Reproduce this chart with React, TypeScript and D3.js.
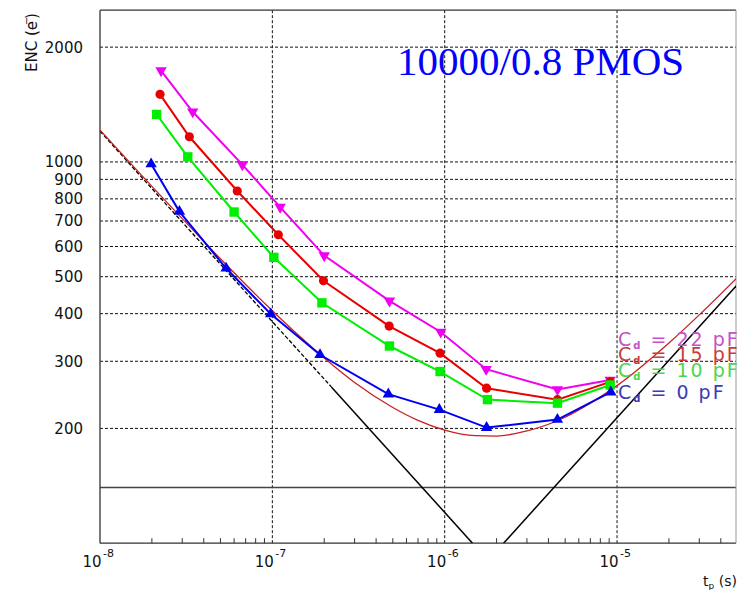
import React from 'react';
import * as d3 from 'd3';

// ---- data ----
const tpMagenta = [2.26e-8, 3.45e-8, 6.7e-8, 1.11e-7, 2.0e-7, 4.78e-7, 9.48e-7, 1.74e-6, 4.51e-6, 9.12e-6];
const encMagenta = [1736, 1354, 984, 761, 568, 432, 358, 286, 253, 268];

const tpRed = [2.23e-8, 3.3e-8, 6.26e-8, 1.083e-7, 1.98e-7, 4.76e-7, 9.4e-7, 1.75e-6, 4.51e-6, 9.12e-6];
const encRed = [1504, 1164, 839, 644, 488, 371, 315, 255, 238, 265];

const tpGreen = [2.13e-8, 3.23e-8, 6.0e-8, 1.02e-7, 1.94e-7, 4.78e-7, 9.4e-7, 1.77e-6, 4.51e-6, 9.12e-6];
const encGreen = [1332, 1031, 739, 562, 427, 329, 282, 238, 233, 260];

const tpBlue = [1.98e-8, 2.89e-8, 5.39e-8, 9.79e-8, 1.89e-7, 4.71e-7, 9.31e-7, 1.75e-6, 4.51e-6, 9.2e-6];
const encBlue = [987, 741, 526, 399, 312, 246, 224, 201, 211, 249];

// thin red total-noise curve
const tpTotal = [1e-8, 1.5e-8, 2e-8, 3e-8, 5e-8, 7e-8, 1e-7, 1.5e-7, 2e-7, 3e-7, 5e-7, 7e-7, 1e-6, 1.5e-6, 2e-6, 3e-6, 5e-6, 7e-6, 1e-5, 2e-5, 3e-5, 5e-5];
const encTotal = [1212, 993, 863, 710, 557, 477, 407, 343, 306, 264, 227, 210, 198, 191.5, 191, 197, 214, 233, 259, 335, 397, 498];

// black asymptotes
const tpSeriesDashed = [1e-8, 2.2e-7];
const encSeriesDashed = [1204, 257];
const tpSeriesSolid = [2.2e-7, 1.45e-6];
const encSeriesSolid = [257, 100];
const tpParallel = [2.195e-6, 5e-5];
const encParallel = [100, 477];

const hLineValue = 140;

const yTickValues = [200, 300, 400, 500, 600, 700, 800, 900, 1000, 2000];
const xDecades = [-8, -7, -6, -5];
const xGridValues = [1e-7, 1e-6, 1e-5];

const legendLabels = ['22', '15', '10', '0'];

const seriesList = [
  { tp: tpMagenta, enc: encMagenta, color: '#f000f0', shape: 'tdown', legendColor: '#c850c8' },
  { tp: tpRed, enc: encRed, color: '#e80000', shape: 'circle', legendColor: '#c83c3c' },
  { tp: tpGreen, enc: encGreen, color: '#00ee00', shape: 'square', legendColor: '#4cd64c' },
  { tp: tpBlue, enc: encBlue, color: '#0000f0', shape: 'tup', legendColor: '#3c3cb4' },
];

export default function App() {
  const x = d3.scaleLog().domain([1e-8, 4.9e-5]).range([100, 736]);
  const y = d3.scaleLog().domain([100, 2500]).range([543.2, 10.2]);
  const [x0, x1] = x.range();
  const [yb, yt] = y.range();

  const line = d3
    .line<[number, number]>()
    .x((d) => x(d[0]))
    .y((d) => y(d[1]));
  const smooth = d3
    .line<[number, number]>()
    .x((d) => x(d[0]))
    .y((d) => y(d[1]))
    .curve(d3.curveMonotoneX);

  const zip = (a: number[], b: number[]) => a.map((v, i) => [v, b[i]] as [number, number]);

  const minorTicks: number[] = [];
  xDecades.forEach((d) => {
    for (let k = 2; k <= 9; k++) {
      const v = k * Math.pow(10, d);
      if (v < x.domain()[1]) minorTicks.push(v);
    }
  });

  const sym = (shape: string) => {
    if (shape === 'circle') return d3.symbol(d3.symbolCircle, 66)();
    if (shape === 'square') return d3.symbol(d3.symbolSquare, 88)();
    return d3.symbol(d3.symbolTriangle, 56)();
  };

  const legendY = [346, 361, 377, 399];

  return (
    <svg
      width={738}
      height={590}
      style={{ position: 'absolute', left: 0, top: 0, background: '#fff' }}
      fontFamily="'DejaVu Sans', sans-serif"
    >
      <rect x={0} y={0} width={738} height={590} fill="#fff" />
      <defs>
        <clipPath id="plotclip">
          <rect x={x0} y={yt} width={x1 - x0} height={yb - yt} />
        </clipPath>
      </defs>

      {/* grid */}
      {yTickValues.map((v) => (
        <line key={'hg' + v} x1={x0} x2={x1} y1={y(v)} y2={y(v)} stroke="#111" strokeWidth={1} strokeDasharray="3,2" />
      ))}
      {xGridValues.map((v) => (
        <line key={'vg' + v} x1={x(v)} x2={x(v)} y1={yt} y2={yb} stroke="#111" strokeWidth={1} strokeDasharray="3,2" />
      ))}
      <line x1={x0} x2={x1} y1={y(hLineValue)} y2={y(hLineValue)} stroke="#444" strokeWidth={1.3} />

      {/* frame */}
      <line x1={x0} x2={x0} y1={yt} y2={yb} stroke="#333" strokeWidth={1.3} />
      <line x1={x0} x2={x1} y1={yb} y2={yb} stroke="#333" strokeWidth={1.3} />
      <line x1={x0} x2={x1} y1={yt} y2={yt} stroke="#333" strokeWidth={1.3} />
      <line x1={x1} x2={x1} y1={yt} y2={yb} stroke="#999" strokeWidth={1} />

      {/* x ticks */}
      {minorTicks.map((v) => (
        <line key={'mt' + v} x1={x(v)} x2={x(v)} y1={yb} y2={yb - 5} stroke="#333" strokeWidth={1} />
      ))}

      {/* model curves */}
      <g clipPath="url(#plotclip)" fill="none">
        <path d={line(zip(tpSeriesDashed, encSeriesDashed)) || ''} stroke="#000" strokeWidth={1.3} strokeDasharray="4,2" />
        <path d={line(zip(tpSeriesSolid, encSeriesSolid)) || ''} stroke="#000" strokeWidth={1.5} />
        <path d={line(zip(tpParallel, encParallel)) || ''} stroke="#000" strokeWidth={1.5} />
        <path d={smooth(zip(tpTotal, encTotal)) || ''} stroke="#c82020" strokeWidth={1.3} />
      </g>

      {/* series */}
      {seriesList.map((s, i) => (
        <g key={'s' + i}>
          <path d={line(zip(s.tp, s.enc)) || ''} fill="none" stroke={s.color} strokeWidth={2} />
          {s.tp.map((t, j) => (
            <path
              key={j}
              d={sym(s.shape) || ''}
              transform={`translate(${x(t)},${y(s.enc[j])})${s.shape === 'tdown' ? ' rotate(180)' : ''}`}
              fill={s.color}
            />
          ))}
        </g>
      ))}

      {/* y tick labels */}
      {yTickValues.map((v) => (
        <text key={'yl' + v} x={83} y={y(v)} dy="0.36em" textAnchor="end" fontSize={15} fill="#111">
          {v}
        </text>
      ))}

      {/* x tick labels */}
      {xDecades.map((d) => (
        <g key={'xl' + d}>
          <text x={x(Math.pow(10, d)) + 1.5} y={567} textAnchor="end" fontSize={15} fill="#111">
            10
          </text>
          <text x={x(Math.pow(10, d)) + 3} y={557} fontSize={11} fill="#111">
            {'-' + Math.abs(d)}
          </text>
        </g>
      ))}

      {/* axis titles */}
      <text x={737} y={586} textAnchor="end" fontSize={14} fill="#111">
        t<tspan fontSize={9} dy={3}>p</tspan>
        <tspan dy={-3}> (s)</tspan>
      </text>
      <g transform="translate(37,72) rotate(-90)" fill="#111">
        <text x={0} y={0} fontSize={15}>ENC (e</text>
        <text x={47} y={-7} fontSize={10}>−</text>
        <text x={53} y={0} fontSize={15}>)</text>
      </g>

      {/* title */}
      <text x={397} y={75} fontFamily="'Liberation Serif', serif" fontSize={41} fill="#0000ff">
        10000/0.8 PMOS
      </text>

      {/* legend */}
      {seriesList.map((s, i) => (
        <text key={'lg' + i} x={618} y={legendY[i]} fontSize={19} letterSpacing={2} fill={s.legendColor}>
          C<tspan fontSize={10} dy={3} fontWeight="bold">d</tspan>
          <tspan dy={-3}>{' = ' + legendLabels[i] + ' pF'}</tspan>
        </text>
      ))}
    </svg>
  );
}
